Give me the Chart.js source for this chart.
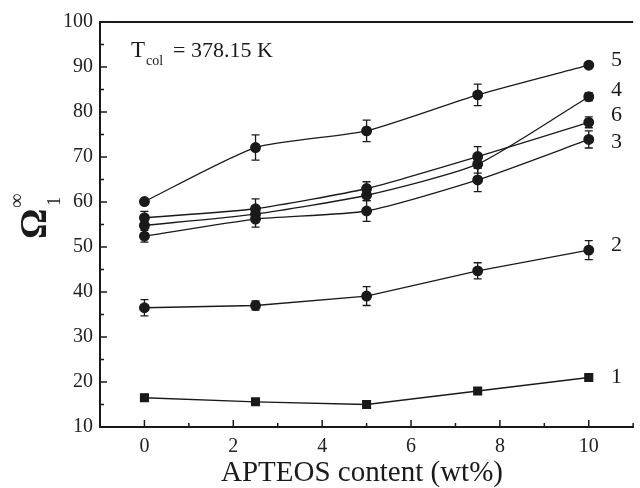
<!DOCTYPE html>
<html>
<head>
<meta charset="utf-8">
<script src="https://cdn.jsdelivr.net/npm/chart.js@4.4.0/dist/chart.umd.min.js"></script>
<style>
  body { margin: 0; background: #fff; }
  #wrap { width: 640px; height: 488px; }
</style>
</head>
<body>
<div id="wrap"><canvas id="myChart" width="640" height="488"></canvas></div>
<script>
// APTEOS content (wt%)
var content = [0, 2.5, 5, 7.5, 10];

// Omega values per curve, and their error bars
var curve1 = [16.5, 15.6, 15.0, 18.0, 21.0];
var curve2 = [36.5, 37.0, 39.1, 44.7, 49.3];
var curve3 = [52.4, 56.2, 58.0, 64.9, 73.9];
var curve4 = [54.8, 57.3, 61.5, 68.4, 83.4];
var curve5 = [60.1, 72.1, 75.8, 83.8, 90.4];
var curve6 = [56.5, 58.5, 63.0, 70.1, 77.7];

var err1 = [0.4, 0.3, 0.4, 0.5, 0.4];
var err2 = [1.8, 1.0, 2.1, 1.8, 2.1];
var err3 = [1.3, 1.8, 2.3, 2.6, 1.9];
var err4 = [0.8, 1.0, 1.2, 2.0, 0.9];
var err5 = [0.0, 2.8, 2.4, 2.4, 0.0];
var err6 = [1.4, 2.2, 1.5, 2.2, 1.2];

var curveNames = ['1', '2', '3', '4', '5', '6'];
var nameY = [21.0, 50.3, 73.2, 84.9, 91.6, 79.3];

var xTicks = [0, 2, 4, 6, 8, 10];
var yTicks = [10, 20, 30, 40, 50, 60, 70, 80, 90, 100];

var ink = '#1a1a1a';
var serif = '"Liberation Serif", "DejaVu Serif", serif';

var allCurves = [curve1, curve2, curve3, curve4, curve5, curve6];
var allErrs = [err1, err2, err3, err4, err5, err6];
var tensions = [0, 0, 0.2, 0.2, 0.2, 0.2];

var datasets = allCurves.map(function (c, i) {
    return {
        label: curveNames[i],
        data: content.map(function (x, j) { return { x: x, y: c[j] }; }),
        borderColor: ink,
        borderWidth: 1.3,
        backgroundColor: ink,
        pointBackgroundColor: ink,
        pointBorderColor: ink,
        pointRadius: i === 0 ? 5.5 : 4.8,
        pointStyle: i === 0 ? 'rect' : 'circle',
        tension: tensions[i],
        errs: allErrs[i]
    };
});

var extras = {
    id: 'extras',
    afterDatasetsDraw: function (chart) {
        var c = chart.ctx, xs = chart.scales.x, ys = chart.scales.y, a = chart.chartArea;
        c.save();
        c.strokeStyle = ink;
        c.fillStyle = ink;

        // error bars
        c.lineWidth = 1.3;
        chart.data.datasets.forEach(function (ds, i) {
            var meta = chart.getDatasetMeta(i);
            ds.data.forEach(function (p, j) {
                var e = ds.errs[j];
                if (!e) return;
                var x = meta.data[j].x;
                var t = ys.getPixelForValue(p.y + e), b = ys.getPixelForValue(p.y - e);
                c.beginPath();
                c.moveTo(x, t); c.lineTo(x, b);
                c.moveTo(x - 4, t); c.lineTo(x + 4, t);
                c.moveTo(x - 4, b); c.lineTo(x + 4, b);
                c.stroke();
            });
        });

        // top frame line
        c.lineWidth = 2;
        c.beginPath();
        c.moveTo(a.left, a.top); c.lineTo(a.right, a.top);
        c.stroke();

        // inward tick marks
        c.lineWidth = 1.5;
        c.beginPath();
        for (var k = 0; k < xTicks.length; k++) {
            var px = xs.getPixelForValue(xTicks[k]);
            c.moveTo(px, a.bottom); c.lineTo(px, a.bottom - 7);
            var mx = xs.getPixelForValue(xTicks[k] - 1);
            c.moveTo(mx, a.bottom); c.lineTo(mx, a.bottom - 4);
        }
        var lx = xs.getPixelForValue(xTicks[xTicks.length - 1] + 1);
        c.moveTo(lx, a.bottom); c.lineTo(lx, a.bottom - 4);
        for (var m = 0; m < yTicks.length; m++) {
            var py = ys.getPixelForValue(yTicks[m]);
            c.moveTo(a.left, py); c.lineTo(a.left + 7, py);
            if (m > 0) {
                var my = ys.getPixelForValue(yTicks[m] - 5);
                c.moveTo(a.left, my); c.lineTo(a.left + 4, my);
            }
        }
        c.stroke();

        // curve numbers
        c.font = '22px ' + serif;
        c.textAlign = 'left';
        c.textBaseline = 'middle';
        curveNames.forEach(function (n, i) {
            c.fillText(n, xs.getPixelForValue(10.5), ys.getPixelForValue(nameY[i]));
        });

        // annotation
        c.textBaseline = 'alphabetic';
        c.font = '23px ' + serif;
        c.fillText('T', 131, 57);
        c.font = '14px ' + serif;
        c.fillText('col', 146, 65);
        c.font = '22px ' + serif;
        c.fillText('= 378.15 K', 173, 57);

        // x axis title
        c.textAlign = 'center';
        c.font = '29px ' + serif;
        c.fillText('APTEOS content (wt%)', 362, 481);

        // y axis title, rotated
        c.save();
        c.translate(46, 239);
        c.rotate(-Math.PI / 2);
        c.textAlign = 'left';
        c.font = 'bold 38px ' + serif;
        c.fillText('\u03A9', 0, 0);
        c.font = '19px ' + serif;
        c.fillText('1', 33, 14);
        c.font = '20px ' + serif;
        c.fillText('\u221E', 31, -23);
        c.restore();

        c.restore();
    }
};

var ctx = document.getElementById('myChart');

var myChart = new Chart(ctx, {
    type: 'line',
    data: { datasets: datasets },
    options: {
        responsive: false,
        animation: false,
        layout: { padding: { top: 22, right: 0, left: 0, bottom: 0 } },
        plugins: { legend: { display: false }, tooltip: { enabled: false } },
        scales: {
            x: {
                type: 'linear',
                min: -1,
                max: 11,
                afterBuildTicks: function (s) { s.ticks = xTicks.map(function (v) { return { value: v }; }); },
                afterFit: function (s) { s.height = 61; },
                grid: { display: false, drawTicks: false },
                border: { display: true, color: ink, width: 2 },
                ticks: { color: '#222', padding: 8, font: { family: serif, size: 20 } }
            },
            y: {
                min: 10,
                max: 100,
                afterBuildTicks: function (s) { s.ticks = yTicks.map(function (v) { return { value: v }; }); },
                afterFit: function (s) { s.width = 100; },
                grid: { display: false, drawTicks: false },
                border: { display: true, color: ink, width: 2 },
                ticks: { color: '#222', padding: 7, font: { family: serif, size: 20 } }
            }
        }
    },
    plugins: [extras]
});
</script>
</body>
</html>
